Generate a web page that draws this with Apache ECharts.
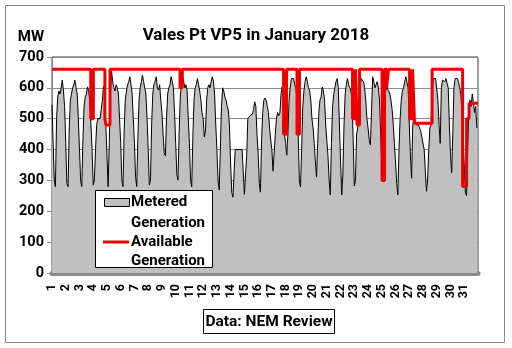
<!DOCTYPE html>
<html>
<head>
<meta charset="utf-8">
<script src="https://cdn.jsdelivr.net/npm/echarts@6/dist/echarts.min.js"></script>
<style>html,body{margin:0;padding:0;background:#fff}#c{width:512px;height:348px}</style>
</head>
<body>
<div id="c"></div>
<script>
// Day labels (x axis)
const dayLabels = ['1','2','3','4','5','6','7','8','9','10','11','12','13','14','15','16','17','18','19','20','21','22','23','24','25','26','27','28','29','30','31'];
// Sample hours within each day for metered generation
const sampleHours = [0,2,4,6,8,10,12,14,16,18,20,22];
// Metered generation (MW), one row per day, at sampleHours
const meteredByDay = [
  [545,420,300,280,500,570,590,580,600,625,590,540],
  [420,290,280,460,560,580,600,610,625,600,580,500],
  [400,300,280,430,540,570,580,603,590,560,480,400],
  [285,300,400,480,500,505,500,530,560,605,580,480],
  [380,280,420,580,655,620,600,590,610,600,580,500],
  [420,300,280,460,560,590,610,620,636,610,580,500],
  [420,310,280,440,560,600,620,641,620,600,580,500],
  [400,285,300,480,580,610,620,636,600,593,610,560],
  [520,450,390,380,500,580,600,610,636,620,600,520],
  [420,320,301,450,570,610,640,620,600,610,590,500],
  [420,300,279,440,560,600,610,630,610,590,560,520],
  [500,441,460,560,600,610,600,620,636,620,580,480],
  [400,300,269,400,540,600,590,570,560,540,528,473],
  [350,260,246,250,400,400,400,400,400,400,400,400],
  [255,253,380,500,505,510,505,515,530,555,540,450],
  [390,290,262,430,520,560,567,560,540,520,470,431],
  [400,330,324,450,500,520,510,518,580,603,560,450],
  [420,382,450,560,600,630,636,630,610,600,560,450],
  [300,279,400,540,590,620,636,620,600,590,560,500],
  [470,420,360,311,420,520,560,570,603,590,560,480],
  [430,380,300,253,420,540,580,600,620,630,600,480],
  [360,253,320,480,580,610,630,610,600,590,560,430],
  [282,300,450,470,560,600,630,630,620,600,560,500],
  [470,430,415,520,636,620,600,610,620,600,560,450],
  [340,320,460,580,603,600,590,580,560,530,480,420],
  [360,290,253,400,500,560,590,600,620,636,630,600],
  [480,380,307,480,500,490,480,475,480,470,460,440],
  [440,400,330,265,300,400,470,480,600,630,625,630],
  [630,560,480,420,600,625,630,620,630,625,600,480],
  [380,325,450,600,630,636,630,620,600,580,520,420],
  [350,260,250,400,530,560,540,580,550,520,540,470]
];
// Available generation (MW): [day position where value starts, value]
const availableSteps = [
  [0,660],[2.82,500],[3.01,660],[3.85,500],[3.92,480],[4.22,660],
  [9.32,600],[9.48,660],[16.85,450],[17.07,660],[17.83,450],[18.01,660],
  [21.87,500],[22.09,660],[22.2,480],[22.38,660],[24.02,300],[24.2,660],
  [24.35,600],[24.49,660],[26.02,500],[26.24,660],[26.38,485],[27.66,660],
  [29.88,280],[30.17,500],[30.35,550],[31,550]
];
const yTicks = [0,100,200,300,400,500,600,700];

const metered = [];
meteredByDay.forEach((row, d) => {
  row.forEach((v, i) => metered.push([d + sampleHours[i] / 24, v]));
});

const FONT = 'Roboto, "Liberation Sans", sans-serif';
const chart = echarts.init(document.getElementById('c'), null, {renderer: 'canvas'});
chart.setOption({
  animation: false,
  backgroundColor: '#fff',
  title: {
    text: 'Vales Pt VP5 in January 2018',
    left: 'center', top: 22,
    textStyle: {fontFamily: FONT, fontSize: 17, fontWeight: 'bold', color: '#000'}
  },
  grid: {left: 52, right: 34, top: 57, bottom: 75, show: true, borderColor: '#404040', borderWidth: 1},
  xAxis: {
    type: 'value', min: 0, max: 31, interval: 1, offset: 3,
    axisLine: {show: true, lineStyle: {color: '#8c8c8c', width: 5}},
    axisTick: {show: false},
    splitLine: {show: false},
    axisLabel: {
      rotate: 90, margin: 8,
      fontFamily: FONT, fontSize: 12.5, fontWeight: 'bold', color: '#000',
      formatter: v => (v < dayLabels.length ? dayLabels[v] : '')
    }
  },
  yAxis: {
    type: 'value', min: yTicks[0], max: yTicks[yTicks.length - 1], interval: 100,
    name: 'MW', nameLocation: 'end', nameGap: 20,
    nameTextStyle: {fontFamily: FONT, fontSize: 15, fontWeight: 'bold', color: '#000', align: 'right', verticalAlign: 'middle', padding: [0, 8, 0, 0]},
    axisLine: {show: true, lineStyle: {color: '#8c8c8c'}},
    axisTick: {show: true, length: 5, lineStyle: {color: '#8c8c8c'}},
    splitLine: {show: true, lineStyle: {color: '#8c8c8c', width: 1}},
    axisLabel: {margin: 8, fontFamily: FONT, fontSize: 14.5, fontWeight: 'bold', color: '#000'}
  },
  series: [
    {
      name: 'Metered Generation', type: 'line', data: metered,
      symbol: 'none', smooth: false,
      lineStyle: {color: '#000', width: 1},
      areaStyle: {color: '#c0c0c0', opacity: 1},
      z: 2
    },
    {
      name: 'Available Generation', type: 'line', data: availableSteps,
      step: 'end', symbol: 'none',
      lineStyle: {color: '#ee0000', width: 3},
      z: 3
    }
  ],
  graphic: [
    {type: 'rect', shape: {x: 5.5, y: 5.5, width: 499, height: 337}, style: {fill: 'none', stroke: '#8a8a8a', lineWidth: 1}, z: 0, silent: true},
    {type: 'rect', shape: {x: 95.5, y: 190.5, width: 117, height: 77}, style: {fill: '#fff', stroke: '#000', lineWidth: 1}, z: 10},
    {type: 'rect', shape: {x: 104.5, y: 198.5, width: 25, height: 8}, style: {fill: '#c0c0c0', stroke: '#000', lineWidth: 1}, z: 11},
    {type: 'line', shape: {x1: 103, y1: 242, x2: 129, y2: 242}, style: {stroke: '#ee0000', lineWidth: 3}, z: 11},
    {type: 'text', x: 131, y: 202, style: {text: 'Metered', fontFamily: FONT, fontSize: 15, fontWeight: 'bold', fill: '#000', verticalAlign: 'middle'}, z: 11},
    {type: 'text', x: 131, y: 223, style: {text: 'Generation', fontFamily: FONT, fontSize: 15, fontWeight: 'bold', fill: '#000', verticalAlign: 'middle'}, z: 11},
    {type: 'text', x: 131, y: 242, style: {text: 'Available', fontFamily: FONT, fontSize: 15, fontWeight: 'bold', fill: '#000', verticalAlign: 'middle'}, z: 11},
    {type: 'text', x: 131, y: 261, style: {text: 'Generation', fontFamily: FONT, fontSize: 15, fontWeight: 'bold', fill: '#000', verticalAlign: 'middle'}, z: 11},
    {type: 'rect', shape: {x: 203.5, y: 309.5, width: 131, height: 24}, style: {fill: '#fff', stroke: '#000', lineWidth: 1}, z: 10},
    {type: 'text', x: 269, y: 322, style: {text: 'Data: NEM Review', fontFamily: FONT, fontSize: 15.5, fontWeight: 'bold', fill: '#000', align: 'center', verticalAlign: 'middle'}, z: 11}
  ]
});
</script>
</body>
</html>
